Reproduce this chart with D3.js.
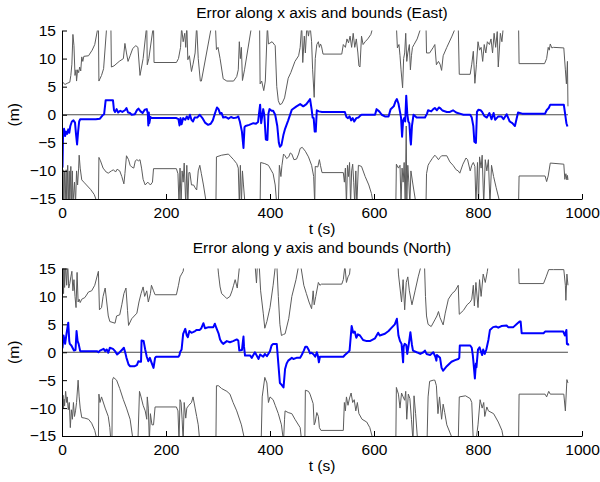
<!DOCTYPE html>
<html>
<head>
<meta charset="utf-8">
<script src="https://cdn.jsdelivr.net/npm/d3@7"></script>
<style>
  html, body { margin: 0; padding: 0; background: #fff; }
  svg { display: block; }
  text { font-family: "Liberation Sans", Arial, Helvetica, sans-serif; }
</style>
</head>
<body>
<svg id="chart" width="600" height="482"></svg>
<script>
// Time (s) and error (m) samples, as [t, value] pairs.
// East: estimation error and its upper / lower bounds.
const eastErr = [[0,-2.2],[1,-9.3],[2,-3.5],[4,-2.5],[6,-3.8],[8,-3.0],[10,-3.4],[12,-2.6],[14,-3.2],[16,-2.0],[19,-1.2],[22,-1.0],[25,-1.4],[27,-3.5],[29,-5.3],[31,-3.0],[33,-1.2],[35,-0.8],[50,-0.8],[65,-0.8],[73,-0.7],[78,-0.1],[81,0.1],[84,2.6],[98,2.6],[100,0.8],[102,0.5],[105,1.0],[108,0.4],[112,0.7],[116,0.5],[121,0.8],[124,1.2],[127,0.4],[131,0.3],[134,0.0],[140,0.1],[144,0.8],[147,1.1],[151,0.6],[155,0.3],[159,0.9],[163,1.0],[165,0.2],[166,-1.9],[167,0.4],[168,-1.5],[170,-0.4],[172,-0.6],[220,-0.6],[224,-0.8],[226,-1.9],[228,-0.6],[230,-1.7],[233,-0.6],[237,-0.9],[240,-0.3],[243,-0.8],[246,0.0],[249,-0.9],[252,-1.2],[255,-0.5],[260,-0.5],[265,0.0],[270,-0.6],[275,-1.4],[281,-1.8],[286,-1.6],[290,-1.0],[294,0.2],[298,1.3],[301,1.0],[304,0.2],[307,0.3],[310,-0.5],[315,-0.4],[320,-0.7],[325,-0.4],[330,-0.6],[336,-0.5],[339,-0.3],[342,-1.2],[346,-3.0],[349,-5.9],[351,-2.2],[353,-2.0],[360,-1.8],[368,-1.5],[373,-1.6],[377,-1.3],[379,0.3],[381,1.8],[383,-1.5],[387,1.0],[389,0.0],[392,-4.4],[395,-4.5],[397,0.2],[399,1.0],[403,0.7],[406,0.7],[410,0.0],[414,-2.0],[417,-5.0],[419,-5.7],[422,-5.4],[426,-3.5],[429,-2.5],[435,-1.0],[442,0.9],[451,1.5],[458,1.9],[464,1.5],[470,1.9],[475,2.5],[477,2.8],[480,1.0],[482,-0.5],[484,-0.6],[486,-3.0],[488,-3.0],[490,0.8],[494,0.6],[500,0.5],[520,0.5],[544,0.5],[547,-0.4],[550,-0.6],[553,-0.3],[556,-1.0],[559,-0.6],[562,-1.2],[566,-0.6],[570,-0.5],[573,-0.2],[576,0.0],[602,0.0],[605,1.0],[610,0.6],[615,0.0],[621,-0.3],[628,-0.3],[632,1.0],[638,1.5],[641,2.3],[644,2.8],[647,2.0],[650,0.5],[652,-0.5],[654,-3.9],[656,-1.0],[658,-0.6],[660,-1.2],[662,3.4],[664,0.2],[666,-1.2],[668,-1.5],[670,-4.5],[671,-5.3],[673,-2.0],[676,0.0],[682,-0.5],[698,-0.5],[702,0.2],[704,0.8],[710,0.6],[714,1.0],[717,1.2],[721,0.8],[725,1.3],[727,1.2],[730,0.9],[733,0.7],[740,0.5],[746,0.5],[752,0.8],[758,0.4],[765,0.2],[772,0.0],[785,0.0],[788,-0.5],[791,-2.0],[793,-4.8],[796,-5.0],[798,0.5],[801,0.9],[805,0.8],[808,0.5],[812,-0.2],[817,-0.5],[822,0.3],[826,-0.8],[830,0.3],[833,-0.9],[839,-0.3],[845,-0.3],[849,-0.8],[855,0.1],[861,-1.2],[866,-1.5],[871,-2.0],[874,-0.8],[877,0.4],[885,0.2],[929,0.2],[932,0.8],[936,1.2],[939,1.8],[965,1.8],[967,0.5],[970,-1.5],[972,-2.1]];

const eastUp = [[0,6.0],[3,5.6],[6,5.4],[10,5.6],[15,5.8],[17,7.0],[19,9.0],[21,14.3],[23,12.3],[25,7.0],[27,8.0],[28,6.0],[30,8.0],[32,7.5],[34,8.5],[36,7.8],[38,10.3],[40,9.5],[42,10.4],[51,10.5],[58,11.5],[63,12.5],[70,16],[71,6.0],[76,7.0],[80,8.2],[87,17],[94,16],[95,8.5],[100,8.7],[110,9.5],[118,10.0],[121,12.7],[124,11.0],[127,9.5],[131,10.5],[136,11.8],[142,12.3],[146,12.0],[150,7.0],[156,10.0],[163,16],[164,8.9],[167,10],[176,16],[177,9.3],[220,9.3],[224,10.0],[228,12.0],[230,15.5],[233,13.0],[236,14.5],[238,12.0],[240,16],[242,9.8],[245,10.5],[249,7.7],[252,9.0],[256,11.0],[259,16],[262,10],[266,6.0],[268,6.0],[288,16],[295,16],[297,11.6],[300,12.0],[304,10.0],[310,6.4],[317,6.0],[330,6.0],[336,6.8],[339,8.0],[341,13.0],[343,10],[345,12.0],[347,6.1],[351,8.0],[365,16],[372,20],[380,16],[381,5.5],[384,6.0],[388,4.3],[391,6.0],[395,16],[397,12.6],[404,13.0],[410,12.3],[413,5.0],[416,2.5],[419,1.8],[423,2.0],[428,3.0],[435,6.5],[440,7.5],[448,9.5],[455,10.5],[458,12],[461,16],[463,9.3],[466,14],[468,11],[471,16],[474,14],[477,16],[480,13],[482,8],[485,3.1],[487,10],[490,12.5],[493,13.0],[495,12.0],[497,12.6],[499,12.2],[502,10.8],[538,10.8],[541,12.5],[545,12.0],[548,13.5],[551,12.8],[554,14.0],[557,12.0],[560,14.5],[563,12],[566,13.5],[569,11.0],[571,8.7],[573,8.5],[576,14.0],[579,12.5],[583,13.0],[588,13.5],[594,14.3],[599,16],[620,20],[640,20],[643,16],[645,11.9],[648,12.5],[650,10.5],[652,8.0],[655,4.8],[657,10],[659,11],[661,14.5],[663,9.5],[665,11],[668,12.5],[670,8.0],[672,10.5],[674,12.0],[677,12.5],[683,13.5],[692,16],[696,20],[700,16],[701,11.0],[707,11.0],[714,12.0],[717,12.5],[720,8.9],[724,9.5],[727,9.0],[730,7.9],[733,10.5],[740,12.0],[750,14.0],[759,16],[762,16],[764,7.2],[785,7.2],[788,9.0],[791,11.3],[794,5.6],[797,9.0],[800,13.0],[803,11.5],[806,12.0],[809,9.5],[812,12.5],[815,11.0],[818,13.0],[822,12.5],[825,13.5],[828,11.0],[831,14.5],[834,12.0],[837,14.8],[839,8.5],[843,14.5],[846,13],[849,16],[870,20],[878,16],[879,9.1],[928,9.1],[932,10.0],[935,12.0],[937,11.5],[939,12.6],[942,11.9],[945,12.0],[965,11.9],[968,8.0],[970,5.5],[972,9.5],[973,1.5]];

const eastLow = [[0,-12],[1,-15.5],[2,-9.8],[3,-16],[5,-10.0],[6,-16],[8,-9.8],[9,-16],[11,-9.0],[12,-16],[14,-10],[15,-16],[17,-9.2],[18,-16],[20,-10],[21,-16],[24,-12.0],[26,-16],[28,-10.0],[30,-12.5],[32,-9.5],[33,-7.2],[35,-9.5],[38,-11.6],[42,-12.0],[47,-12.5],[55,-13.3],[62,-14.2],[69,-16],[70,-16],[71,-7.6],[74,-8.2],[79,-9.5],[85,-10.2],[89,-10.4],[95,-10.0],[99,-9.8],[103,-10.2],[106,-9.7],[111,-10.0],[115,-11.0],[119,-12.3],[121,-10.5],[124,-7.3],[128,-8.0],[131,-9.0],[134,-9.3],[138,-9.5],[141,-8.2],[144,-8.0],[147,-8.2],[150,-8.0],[153,-9.5],[156,-11.5],[160,-12.5],[165,-12.0],[170,-12.5],[174,-12.0],[176,-9.6],[220,-9.6],[223,-10.5],[225,-16],[227,-9.5],[229,-16],[231,-10],[233,-12],[235,-8.6],[238,-16],[240,-9.0],[242,-16],[244,-10.3],[246,-10.3],[249,-12.5],[253,-12.5],[256,-13.0],[259,-13.4],[262,-10],[265,-9.0],[268,-10.5],[272,-12.5],[278,-16],[290,-20],[296,-16],[297,-7.5],[307,-7.2],[320,-7.0],[325,-7.5],[330,-8.0],[336,-8.7],[339,-9.5],[341,-16],[343,-9],[345,-16],[347,-10],[349,-12.5],[352,-16],[370,-20],[381,-16],[382,-8.5],[390,-8.7],[397,-9.0],[403,-10.0],[406,-10.5],[410,-12.5],[413,-16],[416,-16],[418,-9.0],[421,-11],[423,-9.0],[426,-7.0],[429,-7.3],[432,-7.8],[436,-7.5],[439,-6.8],[442,-7.0],[446,-8.0],[451,-7.9],[455,-7.0],[458,-6.0],[462,-5.8],[468,-6.5],[474,-7.5],[480,-9.0],[484,-11],[486,-16],[487,-9.2],[492,-9.3],[495,-8.0],[497,-9.0],[500,-10.3],[541,-10.3],[543,-12],[545,-9.5],[547,-16],[549,-9.0],[551,-11],[553,-8.5],[555,-16],[557,-10],[559,-8.8],[561,-12],[563,-16],[565,-10],[567,-16],[570,-9.0],[576,-9.2],[583,-11.0],[590,-12.5],[595,-14],[599,-16],[620,-20],[642,-16],[643,-8.8],[647,-9.5],[650,-9.0],[652,-16],[654,-9.5],[656,-12],[658,-8.5],[660,-16],[662,-2.0],[663,-16],[665,-9.0],[667,-12],[669,-16],[671,-10],[675,-12.5],[681,-16],[695,-20],[700,-16],[701,-10.5],[704,-9.0],[707,-8.5],[712,-7.8],[717,-7.2],[720,-7.5],[724,-8.0],[727,-7.6],[730,-7.3],[740,-7.3],[746,-8.4],[752,-9.0],[758,-9.8],[762,-10.0],[765,-10.4],[771,-8.8],[777,-7.7],[780,-8.0],[785,-10.0],[788,-9.0],[791,-8.5],[794,-9.2],[796,-16],[799,-8.5],[801,-16],[803,-7.5],[806,-9.5],[808,-7.2],[811,-16],[814,-8.0],[817,-10],[820,-8.0],[823,-16],[826,-9],[830,-11],[835,-13],[843,-16],[860,-20],[878,-16],[879,-10.9],[929,-10.9],[932,-11.9],[935,-10.9],[939,-8.6],[965,-8.8],[967,-11.5],[969,-10.5],[971,-11.6],[972,-10.8],[973,-11.6]];

// North: estimation error and its upper / lower bounds.
const northErr = [[0,1.0],[1,0.8],[3,3.0],[6,1.5],[9,3.5],[12,5.3],[14,2.0],[15,1.5],[18,1.2],[23,0.3],[26,0.4],[28,3.8],[30,2.0],[32,1.5],[35,0.2],[50,0.2],[67,0.2],[70,0.0],[73,0.3],[80,0.6],[83,0.2],[86,0.5],[89,-0.1],[92,0.8],[98,0.6],[102,0.2],[106,-0.4],[111,0.0],[116,0.5],[119,0.8],[122,-0.2],[124,-1.0],[128,-2.2],[131,-2.5],[140,-2.5],[144,-2.3],[147,-1.6],[150,-1.7],[152,-1.7],[153,2.1],[157,2.0],[160,0.5],[163,-0.8],[166,-1.6],[169,-1.0],[172,-1.8],[176,-2.8],[179,-1.0],[181,-0.8],[224,-0.8],[226,-0.5],[227,0.0],[230,0.5],[233,3.3],[237,4.2],[240,3.0],[242,2.7],[245,3.8],[249,3.5],[252,3.6],[256,3.8],[259,4.0],[265,4.0],[268,4.3],[272,5.2],[275,4.3],[282,4.5],[291,4.5],[294,5.1],[297,4.3],[301,3.4],[304,2.3],[307,1.8],[310,1.5],[317,2.0],[323,1.8],[329,2.0],[336,2.3],[339,2.1],[341,0.3],[346,0.4],[349,2.8],[350,1.0],[352,-0.6],[362,-0.6],[365,-1.0],[371,0.0],[378,-1.2],[381,-0.4],[387,-0.8],[390,-0.3],[394,-0.7],[400,0.2],[403,1.2],[406,1.5],[413,1.5],[416,-2.0],[419,-5.5],[422,-5.8],[426,-6.3],[429,-3.0],[432,-2.0],[435,-1.5],[442,-1.0],[445,-1.2],[451,-1.0],[458,-1.0],[461,-0.5],[465,0.3],[468,1.0],[471,1.0],[474,0.5],[477,-0.2],[480,-0.1],[484,-0.4],[487,-0.8],[490,0.0],[492,-0.6],[494,-1.8],[496,-0.8],[500,-0.8],[541,-0.8],[544,-0.5],[550,0.0],[553,0.3],[557,4.7],[560,3.5],[563,3.7],[566,2.6],[569,3.2],[573,3.0],[579,2.2],[586,2.0],[592,2.0],[602,2.5],[608,3.5],[611,3.0],[621,3.3],[628,3.8],[634,4.4],[640,5.0],[644,6.0],[647,3.0],[650,2.0],[653,1.5],[656,-1.8],[657,1.0],[659,1.5],[662,1.3],[664,-0.3],[667,1.5],[670,3.6],[673,1.3],[675,0.3],[682,0.0],[685,-0.1],[689,-0.3],[695,0.0],[698,0.3],[701,-0.3],[708,-0.5],[714,0.0],[718,-0.8],[720,-1.5],[721,-0.5],[727,-1.0],[730,-2.8],[733,-3.3],[740,-2.5],[749,-1.7],[756,-1.4],[762,-1.2],[764,-1.0],[765,1.2],[785,1.2],[788,0.8],[790,-0.5],[791,-1.5],[794,-4.7],[796,-2.0],[797,-2.7],[800,0.5],[803,0.9],[806,0.0],[808,-0.5],[810,0.5],[813,-0.3],[816,0.5],[820,2.2],[823,4.0],[829,4.5],[835,4.6],[839,4.4],[845,4.7],[855,4.8],[858,4.5],[868,4.5],[874,5.0],[880,5.5],[882,5.5],[884,3.4],[926,3.4],[929,3.7],[964,3.7],[967,3.0],[970,4.0],[971,1.5],[973,1.5],[974,1.2]];

const northUp = [[0,16],[1,10.2],[2,16],[3,10.5],[4,16],[5,11.6],[7,16],[9,12.0],[11,16],[13,11.5],[15,12.3],[17,13.5],[19,14.5],[21,11.0],[23,13.0],[25,10.0],[27,8.0],[29,14.3],[31,9.0],[33,9.5],[35,8.9],[38,9.5],[44,9.8],[51,10.8],[57,11.0],[63,12.0],[70,14.5],[72,7.6],[76,8.0],[79,10.0],[83,11.5],[86,9.0],[89,6.5],[92,5.5],[102,5.2],[105,6.5],[111,6.7],[115,8.5],[119,10.5],[123,11.5],[126,7.5],[128,4.8],[134,6.0],[144,7.0],[148,9.0],[152,10.5],[156,11.7],[159,10.0],[163,11.0],[166,9.0],[170,10.5],[172,12.0],[176,11.0],[179,10.3],[220,10.3],[224,12.0],[227,13.5],[230,14.0],[233,14.5],[235,16],[260,20],[290,20],[299,16],[301,14.0],[304,11.7],[307,10.5],[313,10.0],[317,9.6],[323,10.0],[327,11.0],[330,12.0],[333,13.0],[337,11.5],[342,16],[355,20],[371,16],[374,12.4],[376,16],[379,16],[382,11.0],[387,7.0],[390,4.3],[394,5.5],[400,8.0],[406,12],[411,16],[413,16],[416,10.0],[419,5.0],[422,3.0],[426,3.2],[429,3.3],[436,6.0],[442,10.0],[450,13],[456,16],[460,15],[465,12],[470,10.5],[475,9.0],[480,7.8],[483,11.0],[485,8.5],[488,10],[493,12.5],[496,12.0],[499,12.2],[502,12.2],[538,12.2],[541,13.0],[544,15.5],[547,12.5],[550,13.5],[553,14.0],[555,16],[600,20],[640,20],[646,16],[647,14.0],[650,11.5],[653,9.0],[656,13.0],[659,7.6],[662,12.5],[665,13.5],[668,11.0],[671,9.5],[673,8.5],[679,11.0],[685,13.5],[692,16],[694,20],[697,16],[699,10],[701,6.5],[704,5.0],[710,4.6],[717,5.8],[721,6.5],[724,7.3],[727,6.2],[733,4.9],[737,7.0],[743,9.5],[750,10.5],[756,11.0],[762,12.0],[764,6.8],[772,7.5],[779,8.5],[785,9.0],[788,9.5],[791,12.0],[793,8.3],[796,12.5],[800,8.0],[803,13.0],[806,10.0],[810,14.0],[814,12.5],[818,14.5],[820,16],[850,20],[878,16],[879,12.3],[926,12.3],[931,13.5],[936,14.8],[945,14.8],[965,14.8],[968,12.0],[969,9.3],[971,14.0],[973,12.0]];

const northLow = [[0,-6.3],[1,-9.5],[2,-7.7],[3,-10.0],[4,-8.4],[5,-9.6],[7,-7.0],[9,-9.0],[10,-8.0],[12,-10.3],[14,-9.0],[16,-13.5],[18,-10.3],[20,-12.0],[22,-9.0],[24,-11.5],[26,-10.5],[28,-9.0],[31,-5.0],[33,-8.0],[35,-10.0],[38,-11.7],[44,-11.8],[51,-12.0],[57,-12.7],[63,-14.0],[68,-16],[70,-16],[71,-7.5],[73,-9.0],[76,-8.0],[83,-10.0],[89,-11.5],[92,-13.5],[94,-16],[96,-16],[97,-5.0],[99,-4.5],[105,-5.0],[111,-6.5],[118,-8.5],[124,-10.0],[131,-12.0],[137,-16],[140,-20],[146,-16],[149,-7.0],[152,-8.0],[156,-9.5],[160,-10.5],[163,-12.0],[164,-8.0],[166,-10.0],[168,-16],[170,-11],[173,-13.0],[176,-13.0],[179,-9.8],[220,-9.8],[223,-10.5],[225,-16],[227,-8.5],[229,-9.0],[231,-12],[233,-16],[235,-9.0],[238,-11.8],[240,-10.0],[244,-9.5],[249,-9.0],[252,-8.0],[256,-10.0],[259,-11.5],[262,-13],[265,-16],[285,-20],[296,-16],[297,-6.0],[301,-6.0],[307,-6.5],[317,-7.0],[323,-7.5],[329,-9.0],[336,-10.5],[345,-13.0],[352,-16],[370,-20],[383,-16],[385,-8],[390,-4.5],[394,-5.5],[397,-9.0],[400,-8.0],[406,-8.5],[410,-9.5],[416,-11.0],[422,-13.0],[426,-16],[428,-12],[429,-10.5],[435,-10.8],[442,-11.0],[448,-12.0],[458,-13.5],[461,-16],[465,-18],[467,-16],[468,-6.8],[474,-7.0],[477,-7.5],[483,-9.2],[485,-13],[487,-12.5],[490,-10.8],[493,-11.5],[495,-13.5],[498,-14.0],[541,-14.0],[543,-9.0],[545,-10.5],[547,-8.0],[550,-9.5],[553,-8.2],[556,-7.3],[559,-9.0],[562,-8.5],[565,-10.5],[568,-9.0],[571,-11.0],[577,-12.0],[586,-12.5],[592,-13.5],[599,-16],[620,-20],[642,-16],[643,-6.3],[647,-7.5],[650,-10.0],[653,-7.3],[656,-8.0],[659,-8.6],[661,-7.0],[663,-12.0],[666,-7.5],[669,-8.3],[672,-12],[675,-16],[677,-7.8],[680,-11],[684,-16],[695,-20],[702,-16],[704,-8],[707,-5.2],[714,-5.0],[717,-5.0],[720,-6.0],[723,-11.0],[726,-8.0],[730,-12.0],[733,-9.3],[736,-10.8],[740,-13.0],[753,-16],[760,-18],[762,-16],[764,-8.0],[776,-7.8],[785,-8.3],[788,-9.0],[791,-16],[796,-16],[800,-13],[804,-8.5],[808,-10],[811,-9.0],[813,-11.5],[817,-9.8],[820,-10.5],[830,-11.0],[839,-12.5],[846,-14],[850,-16],[865,-20],[878,-16],[879,-7.5],[929,-7.5],[932,-8.0],[936,-7.0],[939,-7.5],[965,-7.5],[968,-10.5],[971,-4.9],[973,-5.5]];

// Axis ticks, labels and titles
const xTicks = [0, 200, 400, 600, 800, 1000];
const yTicks = [-15, -10, -5, 0, 5, 10, 15];
const xDomain = [0, 1000];
const yDomain = [-15, 15];
const zeroLine = [[0, 0], [973, 0]];
const titles = ["Error along x axis and bounds (East)", "Error along y axis and bounds (North)"];
const xLabel = "t (s)";
const yLabel = "(m)";

const svg = d3.select("#chart");
const left = 62, right = 582;
const FONT = 15.5;

const panels = [
  { top: 30.5, bottom: 199, titleY: 18, title: titles[0], err: eastErr, up: eastUp, low: eastLow },
  { top: 268.5, bottom: 436, titleY: 252.5, title: titles[1], err: northErr, up: northUp, low: northLow }
];

panels.forEach((p, i) => {
  const x = d3.scaleLinear().domain(xDomain).range([left, right]);
  const y = d3.scaleLinear().domain(yDomain).range([p.bottom, p.top]);

  const clipId = "clip" + i;
  svg.append("clipPath").attr("id", clipId)
    .append("rect")
    .attr("x", left).attr("y", p.top)
    .attr("width", right - left).attr("height", p.bottom - p.top);

  const line = d3.line().x(d => x(d[0])).y(d => y(d[1]));
  const plot = svg.append("g").attr("clip-path", `url(#${clipId})`);

  // bounds
  [p.up, p.low].forEach(series => {
    plot.append("path").datum(series)
      .attr("d", line)
      .attr("fill", "none")
      .attr("stroke", "#5c5c5c")
      .attr("stroke-width", 1)
      .attr("stroke-linejoin", "round");
  });

  // zero reference
  plot.append("path").datum(zeroLine)
    .attr("d", line)
    .attr("fill", "none")
    .attr("stroke", "#4a4a4a")
    .attr("stroke-width", 1);

  // error
  plot.append("path").datum(p.err)
    .attr("d", line)
    .attr("fill", "none")
    .attr("stroke", "#0000ff")
    .attr("stroke-width", 2)
    .attr("stroke-linejoin", "round");

  // axes
  const xAxis = d3.axisBottom(x).tickValues(xTicks).tickSize(-5).tickSizeOuter(0).tickPadding(8)
    .tickFormat(d => String(d));
  const yAxis = d3.axisLeft(y).tickValues(yTicks).tickSize(-5).tickSizeOuter(0).tickPadding(6)
    .tickFormat(d => d < 0 ? "\u2212" + Math.abs(d) : String(d));

  const gx = svg.append("g").attr("transform", `translate(0,${p.bottom})`).call(xAxis);
  const gy = svg.append("g").attr("transform", `translate(${left},0)`).call(yAxis);
  [gx, gy].forEach(g => {
    g.selectAll("text").attr("font-size", FONT).attr("fill", "#000")
      .style("font-family", '"Liberation Sans", Arial, sans-serif');
    g.selectAll("line").attr("stroke", "#000");
    g.select(".domain").attr("stroke", "#000");
  });

  // titles and labels
  svg.append("text")
    .attr("x", (left + right) / 2).attr("y", p.titleY)
    .attr("text-anchor", "middle").attr("font-size", FONT)
    .text(p.title);

  svg.append("text")
    .attr("x", (left + right) / 2).attr("y", p.bottom + 35)
    .attr("text-anchor", "middle").attr("font-size", FONT)
    .text(xLabel);

  svg.append("text")
    .attr("transform", `translate(19,${(p.top + p.bottom) / 2}) rotate(-90)`)
    .attr("text-anchor", "middle").attr("font-size", FONT)
    .text(yLabel);
});
</script>
</body>
</html>
